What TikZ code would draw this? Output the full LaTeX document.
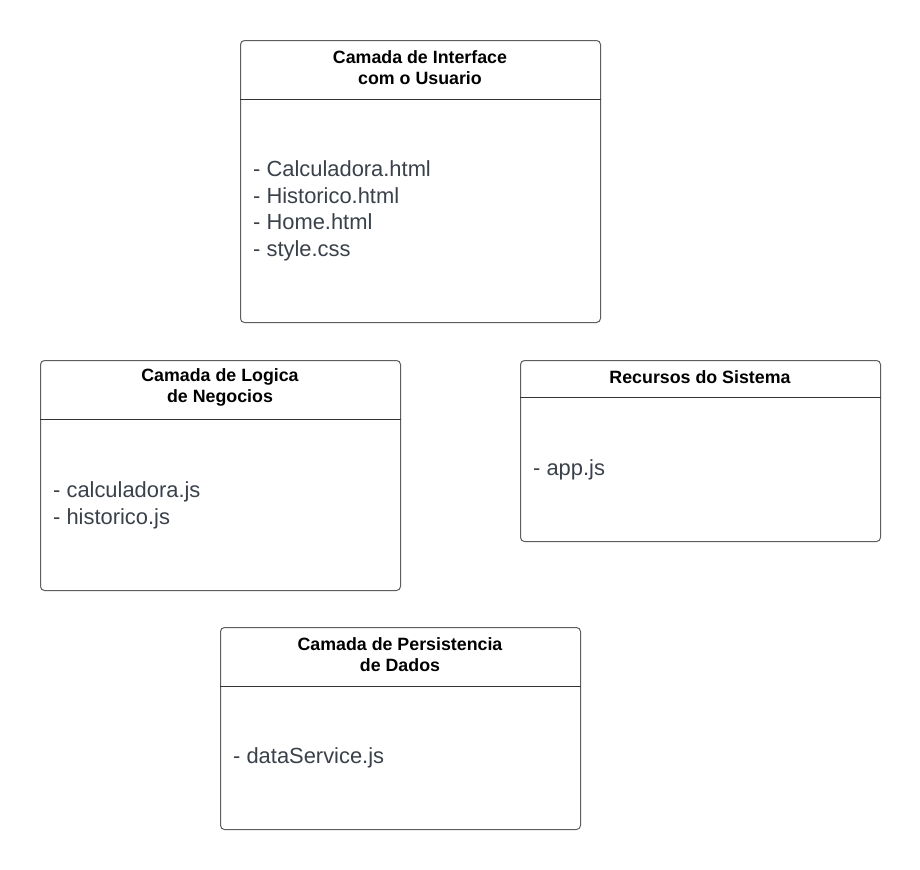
\documentclass[tikz,border=0pt]{standalone}
\usepackage{fontspec}
\setmainfont{Liberation Sans}
\definecolor{framegray}{HTML}{5E5E5E}
\definecolor{bodyink}{HTML}{3A414A}
\definecolor{sepline}{HTML}{333333}
\begin{document}
\begin{tikzpicture}[x=1bp,y=-1bp,
  boxframe/.style={draw=framegray, line width=1bp, rounded corners=4bp, fill=white, inner sep=0pt, anchor=north west},
  titletxt/.style={font=\fontsize{17.8bp}{21bp}\selectfont\bfseries, align=center, text=black, inner sep=0pt},
  bodytxt/.style={font=\fontsize{21.9bp}{26.6bp}\selectfont, align=left, text=bodyink, anchor=west, inner sep=0pt},
  sepstyle/.style={draw=sepline, line width=1bp}]
\useasboundingbox (0,0) rectangle (920,870);
\fill[white] (0,0) rectangle (920,870);

% Box 1: Interface
\node[boxframe, minimum width=360bp, minimum height=282bp] (ui) at (240,40) {};
\draw[sepstyle] (ui.west |- 0,99) -- (ui.east |- 0,99);
\node[titletxt] (uititle) at (420,67.5) {Camada de Interface\\com o Usuario};
\node[bodytxt] (uibody) at (253,211) {- Calculadora.html\\- Historico.html\\- Home.html\\- style.css};

% Box 2: Logica
\node[boxframe, minimum width=360bp, minimum height=230bp] (lg) at (40,360) {};
\draw[sepstyle] (lg.west |- 0,419) -- (lg.east |- 0,419);
\node[titletxt] (lgtitle) at (220,387.5) {Camada de Logica\\de Negocios};
\node[bodytxt] (lgbody) at (53,505.5) {- calculadora.js\\- historico.js};

% Box 3: Recursos
\node[boxframe, minimum width=360bp, minimum height=181bp] (rs) at (520,360) {};
\draw[sepstyle] (rs.west |- 0,397) -- (rs.east |- 0,397);
\node[titletxt] (rstitle) at (700,377.5) {Recursos do Sistema};
\node[bodytxt] (rsbody) at (533,470) {- app.js};

% Box 4: Persistencia
\node[boxframe, minimum width=360bp, minimum height=202bp] (pd) at (220,627) {};
\draw[sepstyle] (pd.west |- 0,686) -- (pd.east |- 0,686);
\node[titletxt] (pdtitle) at (400,654.5) {Camada de Persistencia\\de Dados};
\node[bodytxt] (pdbody) at (233,757.5) {- dataService.js};
\end{tikzpicture}
\end{document}
